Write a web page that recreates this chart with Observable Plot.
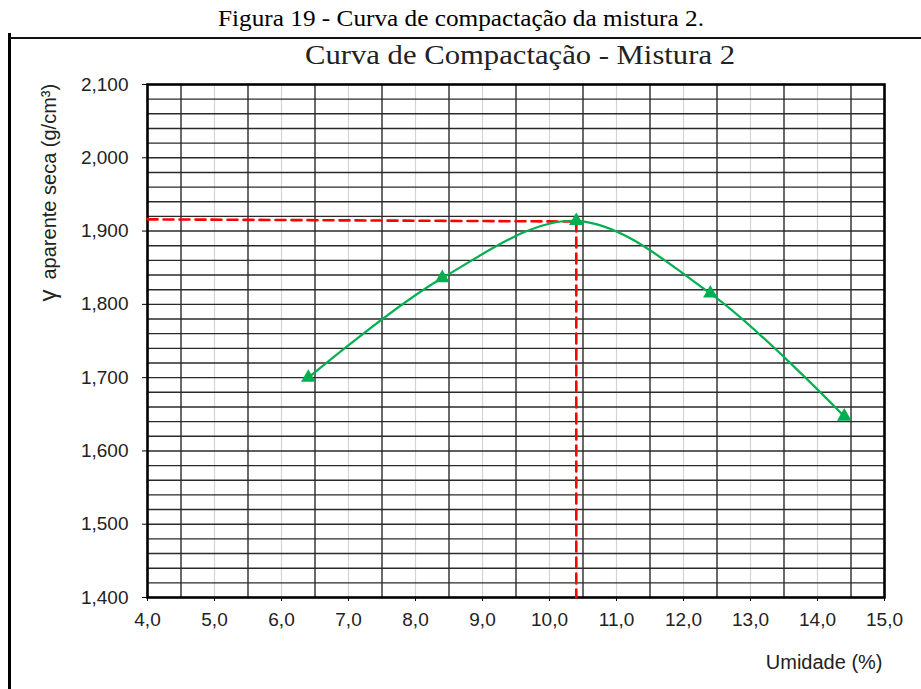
<!DOCTYPE html>
<html>
<head>
<meta charset="utf-8">
<script src="https://cdn.jsdelivr.net/npm/d3@7"></script>
<script src="https://cdn.jsdelivr.net/npm/@observablehq/plot@0.6"></script>
<style>
  html, body { margin: 0; padding: 0; background: #fff; }
  #wrap { position: relative; width: 921px; height: 689px; overflow: hidden; }
  #wrap svg { position: absolute; left: 0; top: 0; }
  .bl { position: absolute; left: 7.5px; top: 33px; width: 3.5px; height: 656px; background: #000; }
  .bt { position: absolute; left: 10px; top: 37px; width: 911px; height: 2px; background: #111; }
</style>
</head>
<body>
<div id="wrap"><div class="bl"></div><div class="bt"></div></div>
<script>
// ---- data ----
const umidade = [6.4, 8.4, 10.4, 12.4, 14.4];
const gamaSeca = [1.700, 1.836, 1.914, 1.815, 1.647];
const xTicks = [4, 5, 6, 7, 8, 9, 10, 11, 12, 13, 14, 15];
const yTicks = [1.4, 1.5, 1.6, 1.7, 1.8, 1.9, 2.0, 2.1];
const xGridDark = [4.5, 5.5, 6.5, 7.5, 8.5, 9.5, 10.5, 11.5, 12.5, 13.5, 14.5];
const xGridLight = [5, 6, 7, 8, 9, 10, 11, 12, 13, 14];
const yGrid = [1.42, 1.44, 1.46, 1.48, 1.50, 1.52, 1.54, 1.56, 1.58, 1.60,
               1.62, 1.64, 1.66, 1.68, 1.70, 1.72, 1.74, 1.76, 1.78, 1.80,
               1.82, 1.84, 1.86, 1.88, 1.90, 1.92, 1.94, 1.96, 1.98, 2.00,
               2.02, 2.04, 2.06, 2.08];
const refX = [4.0, 10.4];      // horizontal guide (x from, x to)
const refYh = [1.916, 1.913];  // horizontal guide y values
const refXv = [10.4, 10.4];    // vertical guide
const refYv = [1.913, 1.400];

const caption = "Figura 19 - Curva de compactação da mistura 2.";
const title = "Curva de Compactação - Mistura 2";
const xLabel = "Umidade (%)";
const yLabelSymbol = "γ";
const yLabelText = "aparente seca (g/cm³)";

const pts = umidade.map((u, i) => ({x: u, y: gamaSeca[i]}));
const hLine = refX.map((u, i) => ({x: u, y: refYh[i]}));
const vLine = refXv.map((u, i) => ({x: u, y: refYv[i]}));

const green = "#00b050";
const sans = "'Liberation Sans', Arial, sans-serif";
const serif = "'Liberation Serif', 'Times New Roman', serif";

const chart = Plot.plot({
  width: 921,
  height: 689,
  marginLeft: 147,
  marginRight: 37,
  marginTop: 84,
  marginBottom: 92,
  style: {fontFamily: sans, fontSize: "19px", color: "#222", background: "transparent", overflow: "visible"},
  x: {domain: [4, 15], axis: null},
  y: {domain: [1.4, 2.1], axis: null},
  marks: [
    Plot.ruleX(xGridLight, {stroke: "#d4d4d4", strokeWidth: 1.2}),
    Plot.ruleY(yGrid, {stroke: "#2a2a2a", strokeWidth: 1.4}),
    Plot.ruleX(xGridDark, {stroke: "#2a2a2a", strokeWidth: 1.4}),
    Plot.frame({stroke: "#000", strokeWidth: 2.6}),
    Plot.axisX(xTicks, {tickSize: 4, tickPadding: 11, fontSize: 19, label: null,
      tickFormat: d => d.toFixed(1).replace(".", ","), stroke: "#000"}),
    Plot.axisY(yTicks, {tickSize: 5, tickPadding: 14, fontSize: 19, label: null,
      tickFormat: d => d.toFixed(3).replace(".", ","), stroke: "#000"}),
    Plot.line(hLine, {x: "x", y: "y", stroke: "#ff0000", strokeWidth: 2.6, strokeDasharray: "10,6"}),
    Plot.line(vLine, {x: "x", y: "y", stroke: "#ff0000", strokeWidth: 2.6, strokeDasharray: "10,6"}),
    Plot.line(pts, {x: "x", y: "y", curve: "catmull-rom", stroke: green, strokeWidth: 2.2}),
    Plot.dot(pts, {x: "x", y: "y", symbol: "triangle", r: 5.4, fill: green, stroke: "none"}),
    Plot.text([caption], {frameAnchor: "top", dx: -55, dy: -59, lineAnchor: "bottom",
      fontFamily: serif, fontSize: 22.5, fill: "#000", className: "cap"}),
    Plot.text([title], {frameAnchor: "top", dx: 4, dy: -21, lineAnchor: "bottom",
      fontFamily: serif, fontSize: 27, fill: "#222", className: "ttl"}),
    Plot.text([xLabel], {frameAnchor: "bottom-right", dx: -2, dy: 71, lineAnchor: "bottom",
      textAnchor: "end", fontSize: 20, fill: "#222"}),
    Plot.text([yLabelSymbol], {frameAnchor: "top-left", dx: -92, dy: 217, rotate: -90,
      lineAnchor: "bottom", textAnchor: "start", fontSize: 24, fill: "#222"}),
    Plot.text([yLabelText], {frameAnchor: "top-left", dx: -92, dy: 195, rotate: -90,
      lineAnchor: "bottom", textAnchor: "start", fontSize: 20, fill: "#222"})
  ]
});
// stretch the serif headings horizontally like the reference
d3.select(chart).selectAll("g.cap text").attr("textLength", 486).attr("lengthAdjust", "spacingAndGlyphs");
d3.select(chart).selectAll("g.ttl text").attr("textLength", 430).attr("lengthAdjust", "spacingAndGlyphs");
document.getElementById("wrap").appendChild(chart);
</script>
</body>
</html>
